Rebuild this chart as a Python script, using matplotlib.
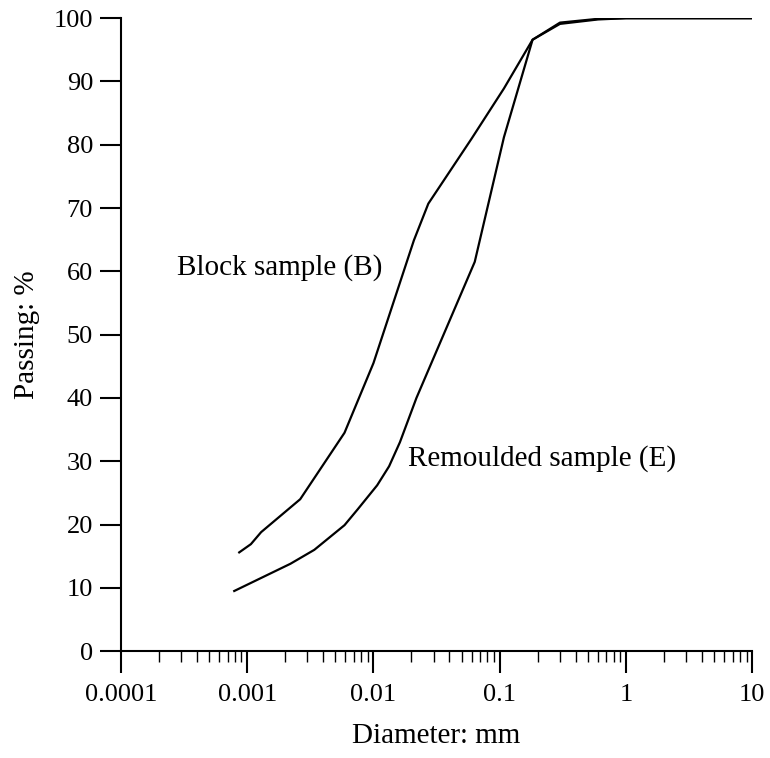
import matplotlib
matplotlib.use('Agg')
import matplotlib.pyplot as plt
from matplotlib.ticker import LogLocator, FixedLocator, NullFormatter

# Block sample (B)
block_d = [0.000865, 0.00107, 0.00129, 0.00263, 0.0059, 0.01, 0.0209, 0.0272,
           0.06, 0.108, 0.182, 0.30, 0.6, 1.0, 10.0]
block_p = [15.6, 16.9, 18.8, 24.0, 34.5, 45.5, 64.9, 70.7,
           81.0, 88.9, 96.6, 99.3, 99.9, 100.0, 100.0]

# Remoulded sample (E)
remould_d = [0.00079, 0.0022, 0.0034, 0.0059, 0.0075, 0.0107, 0.0133, 0.0162, 0.0219,
             0.0634, 0.108, 0.182, 0.30, 0.6, 1.0, 10.0]
remould_p = [9.5, 13.8, 16.0, 19.9, 22.4, 26.2, 29.2, 33.0, 40.0,
             61.5, 81.2, 96.6, 99.1, 99.8, 100.0, 100.0]

x_ticks = [0.0001, 0.001, 0.01, 0.1, 1, 10]
x_ticklabels = ['0.0001', '0.001', '0.01', '0.1', '1', '10']
y_ticks = [0, 10, 20, 30, 40, 50, 60, 70, 80, 90, 100]

plt.rcParams['font.family'] = ['Liberation Serif', 'DejaVu Serif']
plt.rcParams['font.size'] = 19

fig = plt.figure(figsize=(7.7, 7.58), dpi=100)
ax = fig.add_axes([0.157, 0.141, 0.820, 0.835])

ax.plot(block_d, block_p, color='black', linewidth=1.6)
ax.plot(remould_d, remould_p, color='black', linewidth=1.6)

ax.set_xscale('log')
ax.set_xlim(0.0001, 10)
ax.set_ylim(0, 100)

ax.xaxis.set_major_locator(FixedLocator(x_ticks))
ax.set_xticklabels(x_ticklabels)
ax.xaxis.set_minor_locator(LogLocator(base=10, subs=range(2, 10), numticks=20))
ax.xaxis.set_minor_formatter(NullFormatter())
ax.set_yticks(y_ticks)

for side in ['top', 'right']:
    ax.spines[side].set_visible(False)
for side in ['left', 'bottom']:
    ax.spines[side].set_linewidth(1.5)

ax.tick_params(axis='x', which='major', direction='out', length=16, width=1.5, pad=8)
ax.tick_params(axis='x', which='minor', direction='out', length=8, width=1.0)
ax.tick_params(axis='y', which='major', direction='out', length=15, width=1.5, pad=5)

ax.text(0.00028, 60.6, 'Block sample (B)', fontsize=21, va='center', ha='left')
ax.text(0.0188, 30.5, 'Remoulded sample (E)', fontsize=21, va='center', ha='left')

ax.set_xlabel('Diameter: mm', fontsize=21, labelpad=12)
ax.set_ylabel('Passing: %', fontsize=21, labelpad=10)

plt.savefig('out.png', dpi=100)
plt.close(fig)
